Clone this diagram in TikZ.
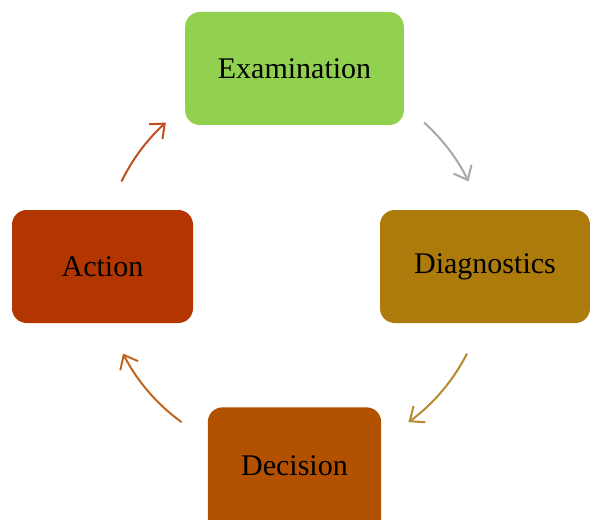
\documentclass[tikz,border=0pt]{standalone}
\usepackage{fontspec}
\setmainfont{Liberation Serif}
\usepackage{tikz}
\usetikzlibrary{arrows.meta}
\usetikzlibrary{positioning}
\definecolor{stepgreen}{HTML}{92D050}
\definecolor{stepochre}{HTML}{AD7A0C}
\definecolor{steporange}{HTML}{B25200}
\definecolor{stepred}{HTML}{B33500}
\definecolor{arrgray}{HTML}{A8A8A8}
\definecolor{arrochre}{HTML}{B8892E}
\definecolor{arrorange}{HTML}{C0651F}
\definecolor{arrred}{HTML}{C24D1E}
\tikzstyle{stage}=[rounded corners=11pt,minimum height=84.75pt,inner sep=0pt,font=\fontsize{22.5}{27}\selectfont]
\tikzstyle{cyc}=[line width=1.5pt,-{Straight Barb[length=9pt,width=15pt,line width=1.5pt]}]

\begin{document}
\begin{tikzpicture}[x=0.75pt,y=0.75pt]
\tikzstyle{stage}=[rounded corners=11pt,minimum height=84.75pt,inner sep=0pt,font=\fontsize{22.5}{27}\selectfont]
\useasboundingbox (0,0) rectangle (590,519);
\coordinate (c) at (295,253);
% the four stages
\node [stage,fill=stepgreen,minimum width=164pt] (exam) at (294.5,450.5) {Examination};
\node [stage,fill=stepochre,minimum width=157.5pt] (diag) at (485,252.5) {Diagnostics};
\node [stage,fill=steporange,minimum width=130pt,minimum height=100pt,text depth=12pt] (dec) at (294.5,45) {Decision};
\node [stage,fill=stepred,minimum width=135.75pt] (act) at (102.5,252.5) {Action};
% arcs on a circle round the centre
\coordinate (g) at ([shift={(48:193)}]c);
\coordinate (o) at ([shift={(-27:193)}]c);
\coordinate (b) at ([shift={(-126:193)}]c);
\coordinate (r) at ([shift={(154:193)}]c);
\draw[cyc,arrgray] (g) arc[start angle=48,end angle=26,radius=193];
\draw[cyc,arrochre] (o) arc[start angle=-27,end angle=-54,radius=193];
\draw[cyc,arrorange] (b) arc[start angle=-126,end angle=-153,radius=193];
\draw[cyc,arrred] (r) arc[start angle=154,end angle=132,radius=193];
\end{tikzpicture}
\end{document}
